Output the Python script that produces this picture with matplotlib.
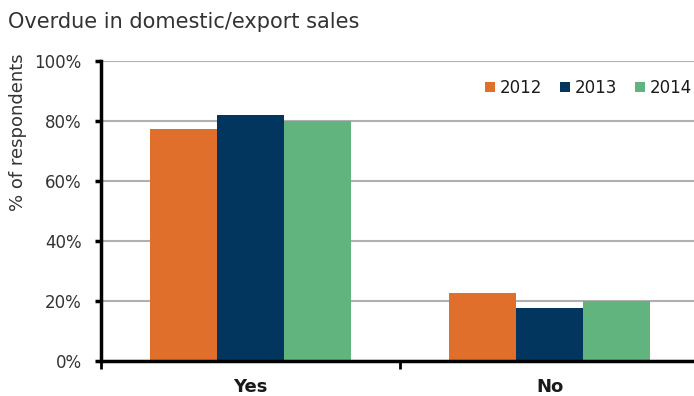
import numpy as np
import matplotlib.pyplot as plt
from matplotlib.ticker import FixedLocator, PercentFormatter

categories = ["Yes", "No"]
years = ["2012", "2013", "2014"]
values_2012 = [77.2, 22.6]
values_2013 = [82.0, 17.8]
values_2014 = [80.0, 19.9]
colors = ["#E06F2C", "#03365E", "#62B47E"]

plt.rcParams["font.family"] = ["DejaVu Sans"]

fig = plt.figure(figsize=(6.94, 3.96), dpi=100)
ax = fig.add_axes([101 / 694, 35 / 396, 598 / 694, 300 / 396])

x = np.arange(len(categories))
w = 0.223
series = [values_2012, values_2013, values_2014]
for i, (vals, yr, c) in enumerate(zip(series, years, colors)):
    ax.bar(x + (i - 1) * w, vals, width=w, color=c, label=yr, zorder=3)

ax.set_xlim(-0.5, 1.5)
ax.set_ylim(0, 100)
ax.yaxis.set_major_locator(FixedLocator([0, 20, 40, 60, 80, 100]))
ax.yaxis.set_major_formatter(PercentFormatter(decimals=0))
ax.grid(axis="y", color="#b0b0b0", linewidth=1.5, zorder=0)

for s in ["top", "right"]:
    ax.spines[s].set_visible(False)
ax.spines["left"].set_linewidth(2.5)
ax.spines["bottom"].set_linewidth(2.5)
ax.spines["left"].set_zorder(4)
ax.spines["bottom"].set_zorder(4)

ax.tick_params(axis="y", direction="out", length=4, width=2.5, labelsize=12,
               labelcolor="#333333", pad=10)
ax.set_xticks([-0.5, 0.5, 1.5])
ax.set_xticklabels([])
ax.tick_params(axis="x", direction="out", length=6, width=2)
ax.set_xticks(x, minor=True)
ax.set_xticklabels(categories, minor=True, fontweight="bold", fontsize=13,
                   color="#1a1a1a")
ax.tick_params(axis="x", which="minor", length=0, pad=12)

fig.text(18 / 694, 1 - 53 / 396, "% of respondents", fontsize=13, rotation=90,
         color="#333333", ha="center", va="top")

fig.text(8 / 694, 1 - 22 / 396, "Overdue in domestic/export sales", fontsize=15,
         color="#333333", va="center", ha="left")

ax.legend(loc="center right", bbox_to_anchor=(0.988, 0.91), ncol=3, frameon=False,
          borderpad=0, borderaxespad=0,
          fontsize=12, handlelength=0.6, handleheight=0.6, handletextpad=0.3,
          columnspacing=1.05, labelcolor="#1a1a1a")

fig.savefig("out.png", dpi=100)
